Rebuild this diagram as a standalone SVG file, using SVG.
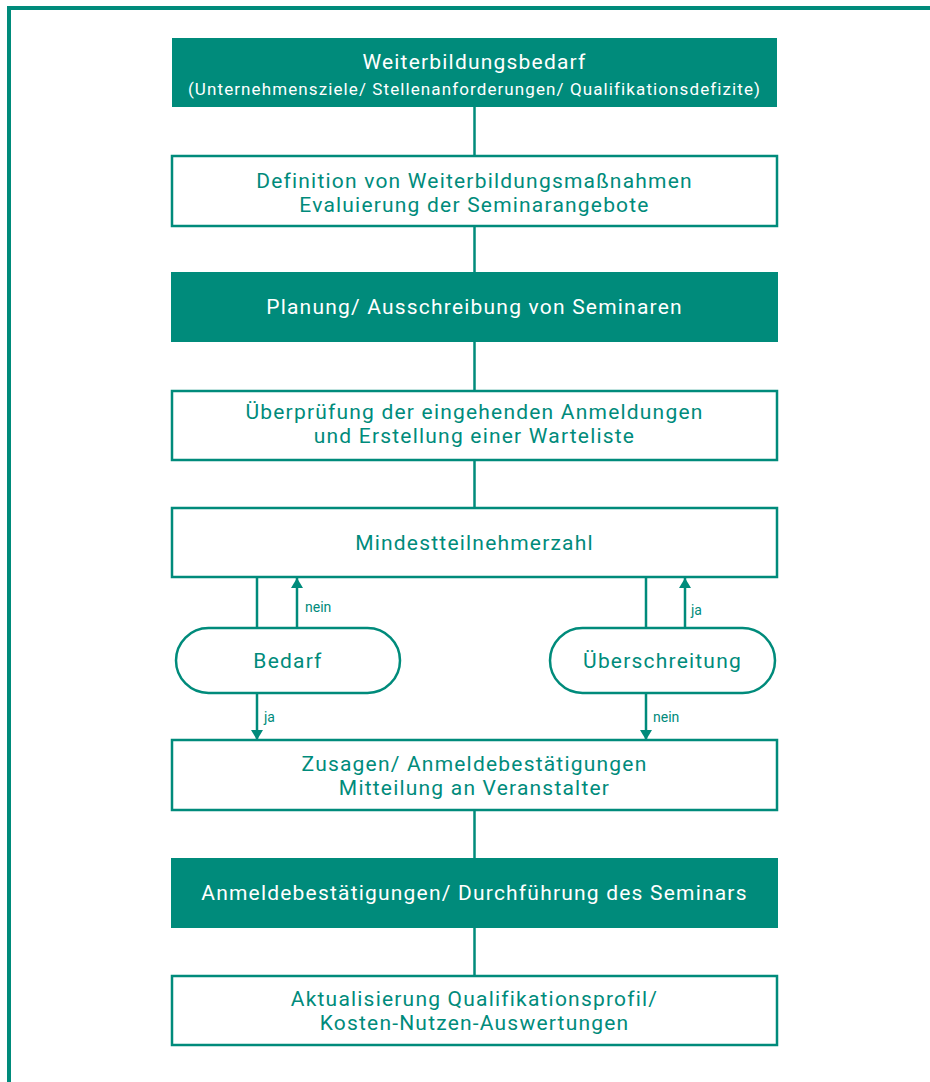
<svg xmlns="http://www.w3.org/2000/svg" width="930" height="1082" viewBox="0 0 930 1082">
<style>
.bx{fill:#fff;stroke:#008b7b;stroke-width:2.5}
.fb{fill:#008b7b;stroke:none}
.t{font-family:Roboto,"Liberation Sans",sans-serif;font-size:21px;letter-spacing:1.2px;fill:#008b7b;text-anchor:middle}
.w{fill:#fff}
.s{font-family:Roboto,"Liberation Sans",sans-serif;font-size:14px;fill:#008b7b}
.ln{stroke:#008b7b;stroke-width:2.5;fill:none}
</style>
<defs>
<marker id="ah" viewBox="0 0 10 12" refX="10" refY="6" markerWidth="10" markerHeight="12" markerUnits="userSpaceOnUse" orient="auto">
<path d="M0,0 L10,6 L0,12 Z" fill="#008b7b"/>
</marker>
</defs>
<rect x="9" y="8" width="940" height="1100" fill="none" stroke="#008b7b" stroke-width="4"/>
<g id="connectors">
<line class="ln" x1="474.5" y1="107" x2="474.5" y2="156"/>
<line class="ln" x1="474.5" y1="226" x2="474.5" y2="272"/>
<line class="ln" x1="474.5" y1="341" x2="474.5" y2="391"/>
<line class="ln" x1="474.5" y1="460" x2="474.5" y2="508"/>
<line class="ln" x1="474.5" y1="810" x2="474.5" y2="858"/>
<line class="ln" x1="474.5" y1="927" x2="474.5" y2="976"/>
<line class="ln" x1="257" y1="577" x2="257" y2="628"/>
<line class="ln" x1="297" y1="628" x2="297" y2="578" marker-end="url(#ah)"/>
<line class="ln" x1="646" y1="577" x2="646" y2="628"/>
<line class="ln" x1="685" y1="628" x2="685" y2="578" marker-end="url(#ah)"/>
<line class="ln" x1="257" y1="693" x2="257" y2="740" marker-end="url(#ah)"/>
<line class="ln" x1="646" y1="693" x2="646" y2="740" marker-end="url(#ah)"/>
<text class="s" x="305" y="612">nein</text>
<text class="s" x="691" y="615">ja</text>
<text class="s" x="264" y="722">ja</text>
<text class="s" x="653" y="722">nein</text>
</g>
<g id="n1">
<rect class="fb" x="172" y="38" width="605" height="69"/>
<text class="t w" x="474.5" y="69">Weiterbildungsbedarf</text>
<text class="t w" x="474.5" y="95" style="font-size:17px;letter-spacing:1.1px">(Unternehmensziele/ Stellenanforderungen/ Qualifikationsdefizite)</text>
</g>
<g id="n2">
<rect class="bx" x="172" y="156" width="605" height="70"/>
<text class="t" x="474.5" y="187.5">Definition von Weiterbildungsmaßnahmen</text>
<text class="t" x="474.5" y="211.5">Evaluierung der Seminarangebote</text>
</g>
<g id="n3">
<rect class="fb" x="171" y="272" width="607" height="70"/>
<text class="t w" x="474.5" y="314">Planung/ Ausschreibung von Seminaren</text>
</g>
<g id="n4">
<rect class="bx" x="172" y="391" width="605" height="69"/>
<text class="t" x="474.5" y="419">Überprüfung der eingehenden Anmeldungen</text>
<text class="t" x="474.5" y="443">und Erstellung einer Warteliste</text>
</g>
<g id="n5">
<rect class="bx" x="172" y="508" width="605" height="69"/>
<text class="t" x="474.5" y="550">Mindestteilnehmerzahl</text>
</g>
<g id="n6">
<rect class="bx" x="176" y="628" width="224" height="65" rx="32.5"/>
<text class="t" x="288" y="668">Bedarf</text>
</g>
<g id="n7">
<rect class="bx" x="550" y="628" width="225" height="65" rx="32.5"/>
<text class="t" x="662.5" y="668">Überschreitung</text>
</g>
<g id="n8">
<rect class="bx" x="172" y="740" width="605" height="70"/>
<text class="t" x="474.5" y="770.5">Zusagen/ Anmeldebestätigungen</text>
<text class="t" x="474.5" y="794.5">Mitteilung an Veranstalter</text>
</g>
<g id="n9">
<rect class="fb" x="171" y="858" width="607" height="70"/>
<text class="t w" x="474.5" y="900">Anmeldebestätigungen/ Durchführung des Seminars</text>
</g>
<g id="n10">
<rect class="bx" x="172" y="976" width="605" height="69"/>
<text class="t" x="474.5" y="1006">Aktualisierung Qualifikationsprofil/</text>
<text class="t" x="474.5" y="1030">Kosten-Nutzen-Auswertungen</text>
</g>
</svg>
